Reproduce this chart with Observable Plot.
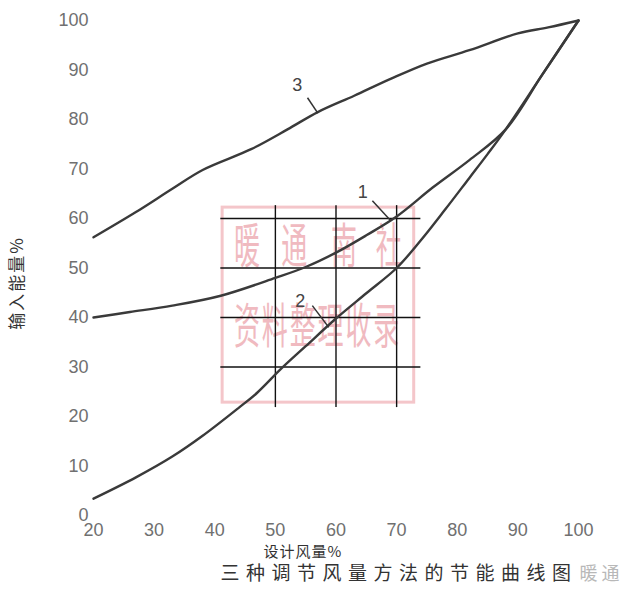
<!DOCTYPE html>
<html><head><meta charset="utf-8">
<script src="https://cdn.jsdelivr.net/npm/d3@7"></script>
<script src="https://cdn.jsdelivr.net/npm/@observablehq/plot@0.6"></script>
<style>body{margin:0;background:#fff}</style>
</head><body><div id="chart"></div>
<script>
// ---- data ----
const xTicks = [20, 30, 40, 50, 60, 70, 80, 90, 100];
const yTicks = [0, 10, 20, 30, 40, 50, 60, 70, 80, 90, 100];

const curve1X = [20, 26, 33, 41, 50, 55, 60, 65, 70, 76, 82, 88, 94, 100];
const curve1Y = [40, 41.1, 42.4, 44.4, 48, 50.2, 53.1, 56.6, 60.4, 66.3, 71.8, 78, 89, 100];

const curve2X = [20, 27, 33, 38, 44, 47, 51, 55, 60, 65, 70, 74, 78, 82, 85, 88, 94, 100];
const curve2Y = [3.4, 7.7, 11.9, 16.1, 21.8, 24.8, 29.7, 34.2, 39.8, 44.9, 50, 55.6, 61.8, 68.2, 73, 78, 89, 100];

const curve3X = [20, 27, 33, 38, 46, 52, 57, 63, 69, 75, 82, 90, 95, 100];
const curve3Y = [56.2, 61.3, 66, 69.8, 74, 78, 81.5, 84.8, 88.2, 91.3, 94, 97.4, 98.6, 100];

const curveNames = ["1", "2", "3"];
const labelX = [64.4, 54.1, 53.6];
const labelY = [65.3, 43.3, 86.9];
const leaderX1 = [66, 56.1, 55.3];
const leaderY1 = [63.6, 42.4, 84.4];
const leaderX2 = [69, 58.8, 57];
const leaderY2 = [59.6, 38, 81.3];

// stamp-area grid (black lines) and the red stamp
const gridX = [50, 60, 70];
const gridY = [30, 40, 50, 60];
const gridXSpan = [41, 74];
const gridYSpan = [21.8, 62.6];
const stampBox = {x1: 41.3, x2: 72.9, y1: 22.8, y2: 62.2};
const stampRow1 = ["暖", "通", "南", "社"];
const stampRow1X = [45.3, 53.1, 61.3, 68.7];
const stampRow1Y = 51.1;
const stampRow2 = ["资", "料", "整", "理", "收", "录"];
const stampRow2X = [45.3, 49.9, 54.5, 59.1, 63.7, 68.3];
const stampRow2Y = 34.9;

const xLabel = "设计风量%";
const yLabel = "输入能量%";
const title = "三种调节风量方法的节能曲线图";
const watermark = "暖通";

// ---- build ----
const lineData = [
  ...curve1X.map((x, i) => ({s: "1", x, y: curve1Y[i]})),
  ...curve2X.map((x, i) => ({s: "2", x, y: curve2Y[i]})),
  ...curve3X.map((x, i) => ({s: "3", x, y: curve3Y[i]}))
];
const labels = curveNames.map((t, i) => ({t, x: labelX[i], y: labelY[i]}));
const leaders = curveNames.map((t, i) => ({x1: leaderX1[i], y1: leaderY1[i], x2: leaderX2[i], y2: leaderY2[i]}));
const stamp1 = stampRow1.map((t, i) => ({t, x: stampRow1X[i], y: stampRow1Y}));
const stamp2 = stampRow2.map((t, i) => ({t, x: stampRow2X[i], y: stampRow2Y}));
const stampAll = [...stamp1, ...stamp2];

const cjk = "'Noto Sans CJK SC', sans-serif";

const plot = Plot.plot({
  width: 640,
  height: 610,
  marginLeft: 93,
  marginRight: 62,
  marginTop: 20,
  marginBottom: 95,
  style: {fontFamily: "'Liberation Sans', sans-serif", fontSize: "18px", color: "#707070", background: "#fff"},
  x: {domain: [20, 100], ticks: xTicks, tickSize: 0, tickPadding: 8, label: null},
  y: {domain: [0, 100], ticks: yTicks, tickSize: 0, tickPadding: 5, label: null},
  marks: [
    Plot.rect([stampBox], {x1: "x1", x2: "x2", y1: "y1", y2: "y2", fill: "none", stroke: "#f4c6ca", strokeWidth: 3}),
    Plot.text(stampAll, {x: "x", y: "y", text: "t", fontSize: 26, fill: "#f0bac0", fontFamily: cjk}),
    Plot.ruleX(gridX, {y1: gridYSpan[0], y2: gridYSpan[1], stroke: "#111", strokeWidth: 1.4}),
    Plot.ruleY(gridY, {x1: gridXSpan[0], x2: gridXSpan[1], stroke: "#111", strokeWidth: 1.4}),
    Plot.line(lineData, {x: "x", y: "y", z: "s", curve: "catmull-rom", stroke: "#3a3a3a", strokeWidth: 2.4}),
    Plot.link(leaders, {x1: "x1", y1: "y1", x2: "x2", y2: "y2", stroke: "#333", strokeWidth: 1.5}),
    Plot.text(labels, {x: "x", y: "y", text: "t", fontSize: 18, fill: "#444", fontFamily: "'Liberation Sans', sans-serif"}),
    Plot.text([xLabel], {frameAnchor: "bottom-left", textAnchor: "start", dx: 170, dy: 41, text: d => d, fontSize: 15, fill: "#333", fontFamily: cjk}),
    Plot.text([title], {frameAnchor: "bottom-left", textAnchor: "start", dx: 127, dy: 64, text: d => d, fontSize: 19, fill: "#333", fontFamily: cjk}),
    Plot.text([watermark], {frameAnchor: "bottom-left", textAnchor: "start", dx: 486, dy: 64, text: d => d, fontSize: 18, fill: "#b8b8b8", fontFamily: cjk}),
    Plot.text([yLabel], {frameAnchor: "left", textAnchor: "middle", dx: -76, dy: 15, rotate: -90, text: d => d, fontSize: 17, fill: "#333", fontFamily: cjk})
  ]
});

// post-process: stretch stamp characters vertically (positions from Plot's scales)
const sx = plot.scale("x"), sy = plot.scale("y");
const stampPos = new Map(stampAll.map(d => [d.t, d]));
plot.querySelectorAll("text").forEach(el => {
  const s = el.textContent;
  if (stampPos.has(s)) {
    const d = stampPos.get(s);
    el.removeAttribute("x");
    el.removeAttribute("y");
    el.setAttribute("transform", `translate(${sx.apply(d.x)},${sy.apply(d.y)}) scale(1,1.85)`);
  } else if (s === title) {
    el.style.letterSpacing = "6.5px";
  } else if (s === xLabel) {
    el.style.letterSpacing = "1px";
  } else if (s === yLabel) {
    el.style.letterSpacing = "2px";
  } else if (s === watermark) {
    el.style.letterSpacing = "4px";
  }
});

document.getElementById("chart").appendChild(plot);
</script>
</body></html>
